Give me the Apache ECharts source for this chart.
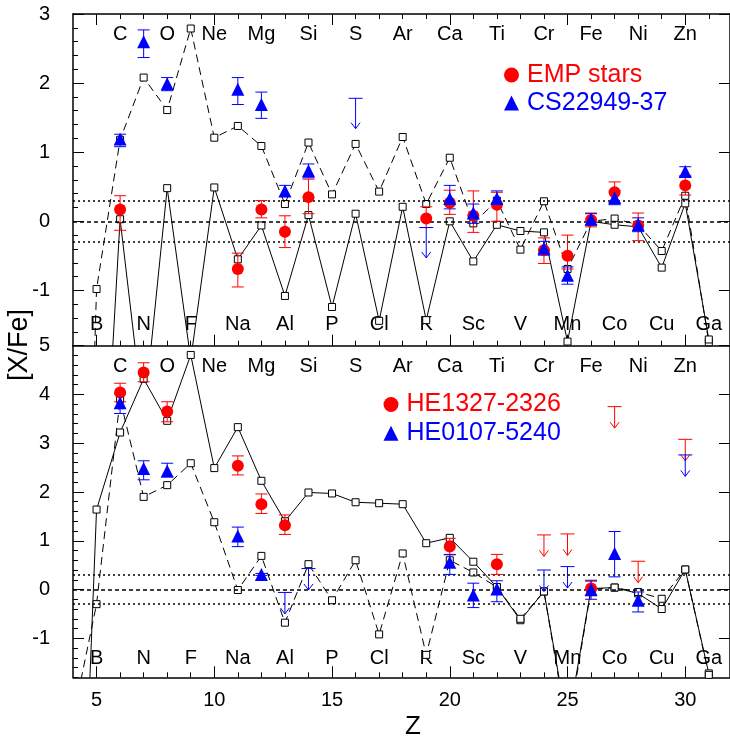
<!DOCTYPE html>
<html>
<head>
<meta charset="utf-8">
<script src="https://cdn.jsdelivr.net/npm/echarts@6/dist/echarts.min.js"></script>
<style>
html,body{margin:0;padding:0;background:#fff}
#c{width:730px;height:741px}
</style>
</head>
<body>
<div id="c"></div>
<script>
// ---------------- DATA ----------------
// Element symbols for Z = 5 .. 31
const ELEMENTS = ['B','C','N','O','F','Ne','Na','Mg','Al','Si','P','S','Cl','Ar','K','Ca','Sc','Ti','V','Cr','Mn','Fe','Co','Ni','Cu','Zn','Ga'];
const FIRST_Z_ELEMENTS = 5;
// model yields, Z = 4 .. 31
const FIRST_Z_MODEL = 4;
const topModelDashed = [-12, -0.98, 1.18, 2.08, 1.61, 2.79, 1.21, 1.38, 1.09, 0.25, 1.14, 0.39, 1.12, 0.43, 1.22, 0.25, 0.92, -0.03, 0.30, -0.41, 0.29, -0.69, 0.00, 0.04, -0.05, -0.43, 0.37, -1.75];
const topModelSolid  = [null, -5.9, 0.03, -2.87, 0.48, -2.0, 0.49, -0.55, -0.06, -1.08, 0.09, -1.24, 0.11, -1.44, 0.21, -1.43, 0.00, -0.58, -0.05, -0.14, -0.16, -1.74, 0.00, -0.05, -0.08, -0.67, 0.26, -1.71];
const botModelSolid  = [-10.6, 1.64, 3.22, 4.32, 3.46, 4.81, 2.49, 3.33, 2.23, 1.40, 1.99, 1.97, 1.79, 1.77, 1.75, 0.95, 1.06, 0.57, 0.05, -0.63, -0.04, -2.8, 0.02, 0.04, -0.08, -0.40, 0.41, -1.72];
const botModelDashed = [-2.64, -0.30, 3.90, 1.90, 2.14, 2.59, 1.38, -0.01, 0.69, -0.68, 0.52, -0.22, 0.60, -0.92, 0.74, -1.34, 0.60, 0.35, 0.05, -0.60, -0.04, -2.9, 0.00, 0.04, -0.05, -0.19, 0.41, -1.75];

// observations: [Z, value, lower end of error bar, upper end of error bar]
const empStars = [
  [6, 0.17, -0.13, 0.37], [11, -0.69, -0.95, -0.46], [12, 0.17, 0.05, 0.30], [13, -0.15, -0.38, 0.08],
  [14, 0.35, 0.11, 0.61], [19, 0.04, -0.09, 0.21], [20, 0.27, 0.10, 0.45], [21, 0.08, -0.16, 0.44],
  [22, 0.24, 0.00, 0.42], [24, -0.42, -0.61, -0.24], [25, -0.50, -0.69, -0.20], [26, 0.02, -0.08, 0.12],
  [27, 0.42, 0.27, 0.57], [28, -0.06, -0.28, 0.12], [30, 0.52, 0.38, 0.66]
];
const cs22949 = [
  [6, 1.19, 1.08, 1.26], [7, 2.60, 2.37, 2.77], [8, 1.99, 1.89, 2.08], [11, 1.91, 1.69, 2.08],
  [12, 1.69, 1.49, 1.87], [13, 0.44, 0.36, 0.52], [14, 0.73, 0.63, 0.83], [20, 0.33, 0.18, 0.52],
  [21, 0.12, -0.03, 0.25], [22, 0.33, 0.26, 0.44], [24, -0.39, -0.49, -0.29], [25, -0.78, -0.91, -0.66],
  [26, 0.03, -0.05, 0.11], [27, 0.34, 0.24, 0.44], [28, -0.05, -0.15, 0.05], [30, 0.72, 0.65, 0.79]
];
const cs22949Limits = [[16, 1.78], [19, -0.09]];   // upper limits [Z, value]

const he1327 = [
  [6, 4.04, 3.85, 4.23], [7, 4.45, 4.26, 4.65], [8, 3.65, 3.44, 3.85], [11, 2.54, 2.35, 2.74],
  [12, 1.75, 1.56, 1.96], [13, 1.32, 1.13, 1.53], [20, 0.88, 0.71, 1.05], [22, 0.52, 0.31, 0.72],
  [26, 0.02, -0.13, 0.17]
];
const he1327Limits = [[24, 1.12], [25, 1.14], [27, 3.75], [28, 0.58], [30, 3.08]];
const he0107 = [
  [6, 3.83, 3.61, 4.01], [7, 2.48, 2.25, 2.64], [8, 2.43, 2.31, 2.59], [11, 1.10, 0.88, 1.28],
  [12, 0.31, 0.29, 0.33], [20, 0.56, 0.31, 0.72], [21, -0.11, -0.37, 0.13], [22, 0.01, -0.25, 0.18],
  [26, 0.00, -0.20, 0.19], [27, 0.74, 0.26, 1.19], [28, -0.22, -0.46, -0.05]
];
const he0107Limits = [[13, -0.06], [14, 0.43], [24, 0.40], [25, 0.47], [30, 2.76]];

const X_MAJOR_TICKS = [5, 10, 15, 20, 25, 30];
const TOP_Y_LABELS = [-1, 0, 1, 2, 3];
const BOT_Y_LABELS = [-1, 0, 1, 2, 3, 4, 5];
const REF_LINES = [-0.3, 0, 0.3];

// ---------------- STYLE / LAYOUT ----------------
const FONT = "'Liberation Sans', Arial, Helvetica, sans-serif";
const RED = '#ff0000', BLUE = '#0000ff';
const X_MIN = 4, X_MAX = 31.9;
const TOP_Y = [-1.8, 3], BOT_Y = [-1.8, 5];
const ARROW_LEN = 0.44;
const LABEL_ROWS = { top: { even: 2.70, odd: -1.50 }, bottom: { even: 4.58, odd: -1.41 } };
const GRID_LEFT = 73, GRID_W = 661.3;

function range(a, b, step) { const r = []; for (let v = a; v <= b + 1e-9; v += step) r.push(Math.round(v * 100) / 100); return r; }
const X_MINOR_TICKS = range(5, 31, 1);

function modelData(arr) { return arr.map((v, i) => [FIRST_Z_MODEL + i, v]); }

function xAxis(grid, position, major, labels) {
  return {
    type: 'value', gridIndex: grid, min: X_MIN, max: X_MAX, position: position,
    axisLine: { show: major, onZero: false, lineStyle: { color: '#000', width: 1.5 } },
    axisTick: { show: true, inside: true, length: major ? 11 : 5, customValues: major ? X_MAJOR_TICKS : X_MINOR_TICKS, lineStyle: { color: '#000', width: 1 } },
    axisLabel: labels ? { show: true, customValues: X_MAJOR_TICKS, color: '#000', fontSize: 20, fontFamily: FONT, margin: 13 } : { show: false },
    splitLine: { show: false }
  };
}
function yAxis(grid, yr, position, major, labels, minorStep) {
  return {
    type: 'value', gridIndex: grid, min: yr[0], max: yr[1], position: position,
    axisLine: { show: major, onZero: false, lineStyle: { color: '#000', width: 1.5 } },
    axisTick: { show: true, inside: true, length: major ? 11 : 5,
      customValues: major ? labels : range(yr[0], yr[1], minorStep), lineStyle: { color: '#000', width: 1 } },
    axisLabel: (major && position === 'left') ? { show: true, customValues: labels, color: '#000', fontSize: 20, fontFamily: FONT, margin: 23 } : { show: false },
    splitLine: { show: false }
  };
}

function errBars(color, cap) {
  return function (params, api) {
    const x = api.value(0), lo = api.value(2), hi = api.value(3);
    const a = api.coord([x, lo]), b = api.coord([x, hi]);
    const st = { stroke: color, lineWidth: 1, fill: null };
    return { type: 'group', children: [
      { type: 'line', shape: { x1: a[0], y1: a[1], x2: b[0], y2: b[1] }, style: st },
      { type: 'line', shape: { x1: a[0] - cap, y1: a[1], x2: a[0] + cap, y2: a[1] }, style: st },
      { type: 'line', shape: { x1: b[0] - cap, y1: b[1], x2: b[0] + cap, y2: b[1] }, style: st }
    ] };
  };
}
function limitArrows(color) {
  return function (params, api) {
    const x = api.value(0), v = api.value(1);
    const a = api.coord([x, v]), b = api.coord([x, v - ARROW_LEN]);
    const st = { stroke: color, lineWidth: 1, fill: null };
    return { type: 'group', children: [
      { type: 'line', shape: { x1: a[0] - 7, y1: a[1], x2: a[0] + 7, y2: a[1] }, style: st },
      { type: 'line', shape: { x1: a[0], y1: a[1], x2: b[0], y2: b[1] }, style: st },
      { type: 'polyline', shape: { points: [[b[0] - 4.5, b[1] - 6], [b[0], b[1]], [b[0] + 4.5, b[1] - 6]] }, style: st }
    ] };
  };
}
function elementLabels(grid, xi, yi, parity, yv) {
  const data = [];
  ELEMENTS.forEach((el, i) => { const z = FIRST_Z_ELEMENTS + i; if (z % 2 === parity) data.push([z, yv]); });
  return {
    type: 'custom', xAxisIndex: xi, yAxisIndex: yi, silent: true, z: 1, clip: false,
    data: data,
    renderItem: function (params, api) {
      const z = api.value(0);
      const p = api.coord([z, api.value(1)]);
      return { type: 'text', x: p[0], y: p[1], style: { text: ELEMENTS[z - FIRST_Z_ELEMENTS], fill: '#000', font: '20px ' + FONT, align: 'center', verticalAlign: 'middle' } };
    }
  };
}
function modelLine(data, xi, yi, dashed, withRef) {
  const s = {
    type: 'line', xAxisIndex: xi, yAxisIndex: yi, data: modelData(data), clip: true, silent: true, z: 3,
    symbol: 'rect', symbolSize: 7, showAllSymbol: true,
    itemStyle: { color: '#fff', borderColor: '#000', borderWidth: 1, opacity: 1 },
    lineStyle: { color: '#000', width: 1, type: dashed ? [8, 5] : 'solid' },
    emphasis: { disabled: true }
  };
  if (withRef) {
    s.markLine = { silent: true, symbol: 'none', label: { show: false }, animation: false,
      data: REF_LINES.map(v => ({ yAxis: v, lineStyle: { color: '#000', width: 1.5, type: v === 0 ? [4, 3] : [2, 3] } })) };
  }
  return s;
}
function markers(name, data, xi, yi, color, symbol, size) {
  return { type: 'scatter', name: name, xAxisIndex: xi, yAxisIndex: yi, data: data.map(d => [d[0], d[1]]),
    symbol: symbol, symbolSize: size, itemStyle: { color: color, opacity: 1 }, z: 6, clip: true, emphasis: { disabled: true } };
}
function bars(data, xi, yi, color) {
  return { type: 'custom', xAxisIndex: xi, yAxisIndex: yi, data: data, renderItem: errBars(color, 6), z: 5, clip: true, silent: true };
}
function limits(data, xi, yi, color) {
  return { type: 'custom', xAxisIndex: xi, yAxisIndex: yi, data: data, renderItem: limitArrows(color), z: 5, clip: true, silent: true };
}

const legendText = { fontSize: 25, lineHeight: 25, fontFamily: FONT, padding: [0, 0, 0, 3] };
const chart = echarts.init(document.getElementById('c'), null, { renderer: 'canvas' });
chart.setOption({
  animation: false,
  backgroundColor: '#fff',
  textStyle: { fontFamily: FONT },
  grid: [
    { left: GRID_LEFT, top: 14, width: GRID_W, height: 331.7 },
    { left: GRID_LEFT, top: 345.7, width: GRID_W, height: 331.6 }
  ],
  xAxis: [
    xAxis(0, 'bottom', true, false), xAxis(0, 'bottom', false, false),
    xAxis(0, 'top', true, false), xAxis(0, 'top', false, false),
    xAxis(1, 'bottom', true, true), xAxis(1, 'bottom', false, false)
  ],
  yAxis: [
    yAxis(0, TOP_Y, 'left', true, TOP_Y_LABELS, 0.2), yAxis(0, TOP_Y, 'left', false, null, 0.2), yAxis(0, TOP_Y, 'right', true, TOP_Y_LABELS, 0.2),
    yAxis(1, BOT_Y, 'left', true, BOT_Y_LABELS, 0.2), yAxis(1, BOT_Y, 'left', false, null, 0.2), yAxis(1, BOT_Y, 'right', true, BOT_Y_LABELS, 0.2)
  ],
  legend: [
    { orient: 'vertical', left: 499, top: 57.5, itemWidth: 15, itemHeight: 15, itemGap: 3, selectedMode: false, symbolKeepAspect: true,
      textStyle: legendText,
      data: [ { name: 'EMP stars', icon: 'circle', textStyle: { color: RED } }, { name: 'CS22949-37', icon: 'triangle', textStyle: { color: BLUE } } ] },
    { orient: 'vertical', left: 378.5, top: 387, itemWidth: 15, itemHeight: 15, itemGap: 3.8, selectedMode: false, symbolKeepAspect: true,
      textStyle: legendText,
      data: [ { name: 'HE1327-2326', icon: 'circle', textStyle: { color: RED } }, { name: 'HE0107-5240', icon: 'triangle', textStyle: { color: BLUE } } ] }
  ],
  graphic: [
    { type: 'text', x: 20, y: 345, rotation: Math.PI / 2, silent: true,
      style: { text: '[X/Fe]', fill: '#000', font: '27px ' + FONT, align: 'center', verticalAlign: 'middle' } },
    { type: 'text', x: 413, y: 727, silent: true,
      style: { text: 'Z', fill: '#000', font: '26px ' + FONT, align: 'center', verticalAlign: 'middle' } }
  ],
  series: [
    elementLabels(0, 0, 0, 0, LABEL_ROWS.top.even),
    elementLabels(0, 0, 0, 1, LABEL_ROWS.top.odd),
    elementLabels(1, 4, 3, 0, LABEL_ROWS.bottom.even),
    elementLabels(1, 4, 3, 1, LABEL_ROWS.bottom.odd),
    modelLine(topModelDashed, 0, 0, true, true),
    modelLine(topModelSolid, 0, 0, false, false),
    modelLine(botModelSolid, 4, 3, false, true),
    modelLine(botModelDashed, 4, 3, true, false),
    bars(empStars, 0, 0, RED),
    markers('EMP stars', empStars, 0, 0, RED, 'circle', 12),
    bars(cs22949, 0, 0, BLUE),
    limits(cs22949Limits, 0, 0, BLUE),
    markers('CS22949-37', cs22949, 0, 0, BLUE, 'triangle', 13),
    bars(he1327, 4, 3, RED),
    limits(he1327Limits, 4, 3, RED),
    markers('HE1327-2326', he1327, 4, 3, RED, 'circle', 12),
    bars(he0107, 4, 3, BLUE),
    limits(he0107Limits, 4, 3, BLUE),
    markers('HE0107-5240', he0107, 4, 3, BLUE, 'triangle', 13)
  ]
});
</script>
</body>
</html>
